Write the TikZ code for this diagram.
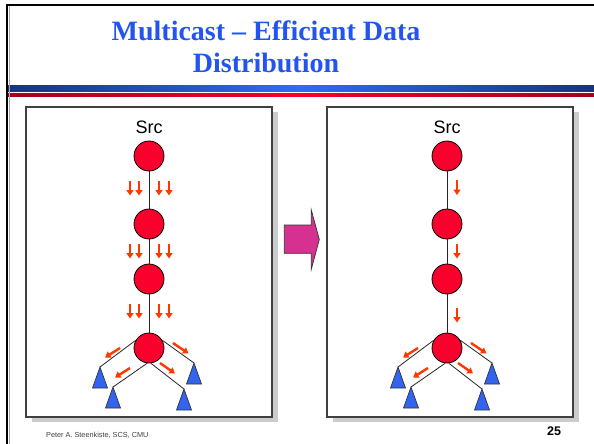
\documentclass[tikz,border=0pt]{standalone}
\usepackage{fontspec}
\setmainfont{Liberation Serif}
\setsansfont{Liberation Sans}
\usetikzlibrary{arrows.meta,shadows}
\definecolor{titleblue}{RGB}{34,85,240}
\definecolor{nodered}{RGB}{250,0,45}
\definecolor{triblue}{RGB}{50,100,240}
\definecolor{floworange}{RGB}{255,55,0}
\definecolor{arrowmag}{RGB}{214,48,144}
\definecolor{bandnavy}{RGB}{25,50,130}
\definecolor{bandblue}{RGB}{50,105,245}
\definecolor{banddark}{RGB}{165,0,30}
\definecolor{bandred}{RGB}{245,0,40}
\tikzset{
  titletext/.style={anchor=base, text=titleblue, font=\bfseries\fontsize{28}{31}\selectfont, inner sep=0},
  panel/.style={draw=black!75, line width=1.3pt, fill=white, minimum width=246pt, minimum height=310pt, inner sep=0,
    general shadow={fill=black!20, shadow xshift=6pt, shadow yshift=-5pt}},
  router/.style={circle, draw=black, line width=0.8pt, fill=nodered, minimum size=30pt, inner sep=0},
  srclabel/.style={anchor=base, font=\sffamily\fontsize{18}{20}\selectfont, inner sep=0},
  link/.style={draw=black!85, line width=0.8pt},
  hostfill/.style={fill=triblue, draw=black!80, line width=0.7pt},
  flow/.style={draw=floworange, line width=2.4pt, -{Triangle[width=7pt,length=5.5pt]}},
}
\begin{document}
\begin{tikzpicture}[x=1pt,y=-1pt]
\useasboundingbox (0,0) rectangle (594,444);
\fill[white] (0,0) rectangle (594,444);
% title
\node[titletext] (t1) at (266,41) {Multicast – Efficient Data};
\node[titletext] (t2) at (266,72) {Distribution};
% bands
\shade[left color=bandnavy, right color=bandnavy, middle color=bandblue] (6,85.5) rectangle (594,91);
\shade[left color=banddark, right color=banddark, middle color=bandred] (6,93) rectangle (594,96.5);
% page border
\draw[black!35, line width=1pt] (9.3,6) -- (9.3,444);
\draw[black, line width=2.2pt] (7,444) -- (7,5) -- (594,5);
% panels
\node[panel] (lp) at (149,262) {};
\node[panel] (rp) at (450,262) {};
% big arrow
\filldraw[fill=arrowmag, draw=black!80, line width=0.7pt]
  (284.3,225) -- (311.3,225) -- (311.3,210) -- (319.3,239.5) -- (311.3,269.3) -- (311.3,253.3) -- (284.3,253.3) -- cycle;
% trees
\foreach \cx/\p in {149/L,447/R}{
  \node[srclabel] (\p src) at (\cx,133) {Src};
  \node[router] (\p1) at (\cx,156) {};
  \node[router] (\p2) at (\cx,224) {};
  \node[router] (\p3) at (\cx,279) {};
  \node[router] (\p4) at (\cx,348) {};
  \draw[link] (\p1) -- (\p2);
  \draw[link] (\p2) -- (\p3);
  \draw[link] (\p3) -- (\p4);
  \coordinate (\p h1) at ({\cx-49},367);
  \coordinate (\p h2) at ({\cx-36},387);
  \coordinate (\p h3) at ({\cx+45},363);
  \coordinate (\p h4) at ({\cx+35},389);
  \draw[link] (\p4.150) -- (\p h1);
  \draw[link] (\p4.263) -- (\p h2);
  \draw[link] (\p4.277) -- (\p h4);
  \draw[link] (\p4.30) -- (\p h3);
  \foreach \h in {1,2,3,4}{
    \filldraw[hostfill] (\p h\h) -- ++(-7.5,21) -- ++(15,0) -- cycle;
  }
  \draw[flow] ({\cx-29},348) -- ({\cx-44},357.5);
  \draw[flow] ({\cx-19},368) -- ({\cx-34},377.5);
  \draw[flow] ({\cx+24},343) -- ({\cx+39.5},353.5);
  \draw[flow] ({\cx+11},363) -- ({\cx+26},373.5);
}
% left panel: per-receiver copies
\foreach \yc in {188,251,311}{
  \foreach \dx in {-19,-10,10,20}{
    \draw[flow] ({149+\dx},{\yc-7.5}) -- ({149+\dx},{\yc+7.5});
  }
}
% right panel: single copy
\foreach \yc in {187.5,251,315}{
  \draw[flow] (457,{\yc-7.5}) -- (457,{\yc+7.5});
}
% footer
\node[anchor=base west, inner sep=0, text=black!75, font=\sffamily\fontsize{7.3}{8}\selectfont] (foot) at (46,437) {Peter A. Steenkiste, SCS, CMU};
\node[anchor=base, inner sep=0, font=\sffamily\bfseries\fontsize{12.5}{14}\selectfont] (pg) at (554,435) {25};
\end{tikzpicture}
\end{document}
